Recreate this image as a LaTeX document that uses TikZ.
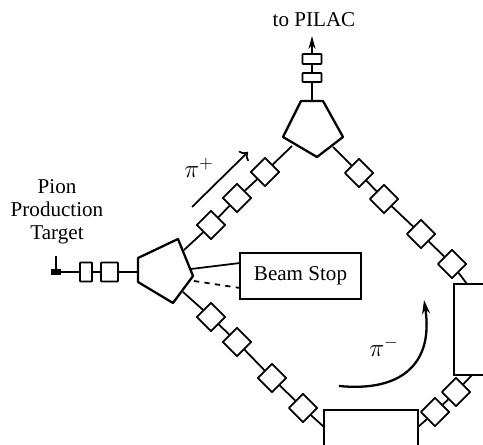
\documentclass[tikz,border=0pt]{standalone}
\usepackage{fontspec}
\setmainfont{Liberation Serif}
\usepackage{tikz}
\usetikzlibrary{shapes.geometric,arrows.meta}
\tikzset{
	lbl/.style={font=\large, align=center, inner sep=0pt},
	quad/.style={diamond, draw, fill=white, line width=1pt, aspect=1, inner sep=0pt, minimum width=0.58cm, minimum height=0.58cm, line join=round},
	hbox/.style={rectangle, draw, fill=white, line width=1pt, inner sep=0pt, minimum height=0.38cm, rounded corners=0.3pt},
	vbox/.style={rectangle, draw, fill=white, line width=1pt, inner sep=0pt, minimum width=0.38cm, rounded corners=0.3pt},
	beam/.style={line width=1pt},
	magnet/.style={line width=1.3pt, line join=round},
}

\begin{document}
\begin{tikzpicture}[x=0.02cm, y=-0.02cm]
	\useasboundingbox (0,0) rectangle (483,445);
	% bending magnets
	\draw[magnet] (138,258) -- (178,239) -- (193,276) -- (173,303) -- (138,282) -- cycle;
	\draw[magnet] (301,101) -- (323,101) -- (343,137) -- (317,157) -- (283,137) -- cycle;
	\coordinate (paw) at (138,272);
	\coordinate (pane) at (184,250);
	\coordinate (pae) at (191,269);
	\coordinate (pase) at (194,281);
	\coordinate (pas) at (183,292);
	\coordinate (pbn) at (312,101);
	\coordinate (pbsw) at (292,146);
	\coordinate (pbse) at (333,147);
	% target and exit
	\node[fill=black, inner sep=0pt, minimum width=0.2cm, minimum height=0.12cm] (target) at (56,272) {};
	\coordinate (tick) at (56,256);
	\draw[beam] (tick) -- (target);
	\node[lbl] (targetlabel) at (57,212) {Pion\\[-1pt]Production\\[-1pt]Target};
	\node[lbl] (pilac) at (314,20) {to PILAC};
	\coordinate (exit) at (312,36);
	% quadrupoles
	\node[hbox, minimum width=0.24cm] (qa) at (86,272) {};
	\node[hbox, minimum width=0.34cm] (qb) at (109.5,272) {};
	\node[vbox, minimum height=0.2cm] (qc) at (312,59) {};
	\node[vbox, minimum height=0.18cm] (qd) at (312,77.5) {};
	\node[quad] (ula) at (211,225) {};
	\node[quad] (ulb) at (237,198) {};
	\node[quad] (ulc) at (265,172) {};
	\node[quad] (ura) at (359,173) {};
	\node[quad] (urb) at (384,199) {};
	\node[quad] (urc) at (421,234) {};
	\node[quad] (urd) at (452,264) {};
	\node[quad] (lla) at (211,317) {};
	\node[quad] (llb) at (237,342) {};
	\node[quad] (llc) at (272,378) {};
	\node[quad] (lld) at (303,408) {};
	\node[quad] (lra) at (435,412) {};
	\node[quad] (lrb) at (456,392) {};
	% large boxes
	\node[draw, line width=1pt, inner sep=0pt, minimum width=2.42cm, minimum height=0.91cm, font=\large] (stop) at (300.5,276) {Beam Stop};
	\draw[line width=1pt] (483,284) -- (454,284) -- (454,375) -- (483,375);
	\draw[line width=1pt] (324,445) -- (324,410) -- (418,410) -- (418,445);
	\coordinate (rboxa) at (467,284);
	\coordinate (rboxb) at (472,375);
	\coordinate (bboxa) at (324,427);
	\coordinate (bboxb) at (418,427);
	\coordinate (stopa) at (240,263);
	\coordinate (stopb) at (240,288);
	% beam lines
	\draw[beam] (target) -- (qa) -- (qb) -- (paw);
	\draw[beam] (pane) -- (ula) -- (ulb) -- (ulc) -- (pbsw);
	\draw[beam] (pbse) -- (ura) -- (urb) -- (urc) -- (urd) -- (rboxa);
	\draw[beam] (pas) -- (lla) -- (llb) -- (llc) -- (lld) -- (bboxa);
	\draw[beam] (bboxb) -- (lra) -- (lrb) -- (rboxb);
	\draw[beam] (pae) -- (stopa);
	\draw[beam, dashed] (pase) -- (stopb);
	\draw[beam] (pbn) -- (qd) -- (qc);
	\draw[beam, -{Stealth[length=2.6mm, width=1.4mm]}] (qc) -- (exit);
	% charge labels and directions
	\coordinate (pipa) at (192,207);
	\coordinate (pipb) at (248,152);
	\draw[beam, ->] (pipa) -- (pipb);
	\node[lbl, font=\Large] (piplus) at (199,168) {$\pi^+$};
	\coordinate (pima) at (339,386);
	\coordinate (pimb) at (424,300);
	\draw[line width=1.3pt, -{Stealth[length=2.8mm, width=1.6mm]}] (pima) .. controls (400,392) and (434,365) .. (pimb);
	\node[lbl, font=\Large] (piminus) at (384,347) {$\pi^-$};
\end{tikzpicture}
\end{document}
